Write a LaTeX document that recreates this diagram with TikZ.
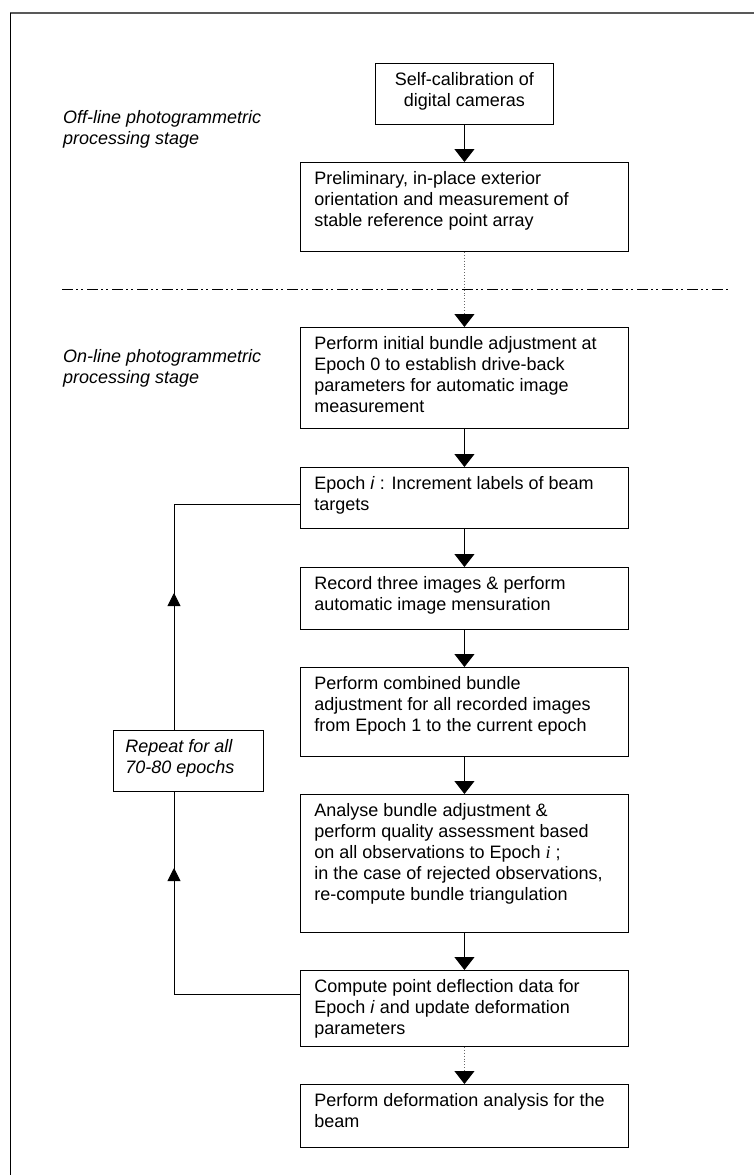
\documentclass[tikz,border=0pt]{standalone}
\usepackage{fontspec}
\setmainfont{Liberation Sans}
\newfontfamily\timesfont{Liberation Serif}
\usetikzlibrary{arrows.meta,decorations.markings}
\newcommand{\boxtext}[3][300pt]{\parbox[t][#2][t]{#1}{\raggedright #3}}

\begin{document}
\begin{tikzpicture}[x=1pt, y=-1pt, font=\fontsize{18}{21}\selectfont,
    stage/.style={draw, line width=0.9pt, anchor=north west, inner xsep=14pt, inner ysep=9pt},
    flow/.style={line width=0.9pt, -{Triangle[width=20pt,length=13pt]}},
    dotflow/.style={dotted, line width=0.9pt, black!60, -{Triangle[width=20pt,length=13pt,color=black]}},
    stagelabel/.style={anchor=north west, inner sep=0pt, align=left, font=\fontsize{18}{21}\selectfont\itshape}]
    \useasboundingbox (0,0) rectangle (754,1175);
    % frame
    \draw[line width=2pt, black!65] (10,13) -- (754,13);
    \draw[line width=0.9pt] (10,13) -- (10,1175);
    % stages
    \node[stagelabel] (offline) at (63,110) {Off-line photogrammetric\\processing stage};
    \node[stagelabel] (online) at (63,349) {On-line photogrammetric\\processing stage};
    \draw[line width=0.9pt, dash pattern=on 11pt off 3pt on 2pt off 3pt on 2pt off 4pt] (62,289) -- (728,289);
    % off-line boxes
    \node[stage] (calib) at (375,63) {\boxtext[150pt]{43pt}{\centering Self-calibration of\\digital cameras}};
    \node[stage] (prelim) at (300,162) {\boxtext{71pt}{Preliminary, in-place exterior\\orientation and measurement of\\stable reference point array}};
    % on-line boxes
    \node[stage] (initial) at (300,327) {\boxtext{83pt}{Perform initial bundle adjustment at\\Epoch 0 to establish drive-back\\parameters for automatic image\\measurement}};
    \node[stage] (epoch) at (300,467) {\boxtext{43pt}{Epoch \textit{i} : Increment labels of beam\\targets}};
    \node[stage] (record) at (300,567) {\boxtext{44pt}{Record three images \& perform\\automatic image mensuration}};
    \node[stage] (combined) at (300,667) {\boxtext{71pt}{Perform combined bundle\\adjustment for all recorded images\\from Epoch 1 to the current epoch}};
    \node[stage] (analyse) at (300,794) {\boxtext{120pt}{Analyse bundle adjustment \&\\perform quality assessment based\\on all observations to Epoch {\timesfont\itshape i} ;\\in the case of rejected observations,\\re-compute bundle triangulation}};
    \node[stage] (compute) at (300,970) {\boxtext{58pt}{Compute point deflection data for\\Epoch \textit{i} and update deformation\\parameters}};
    \node[stage] (deform) at (300,1084) {\boxtext{45pt}{Perform deformation analysis for the\\beam}};
    \node[stage, inner xsep=12pt, font=\fontsize{18}{21}\selectfont\itshape] (repeat) at (113,730) {\boxtext[126pt]{43pt}{Repeat for all\\70-80 epochs}};
    % arrows
    \foreach \a/\b in {calib/prelim, initial/epoch, epoch/record, record/combined, combined/analyse, analyse/compute}
        \draw[flow] (\a) -- (\b);
    \draw[dotflow] (prelim) -- (initial);
    \draw[dotflow] (compute) -- (deform);
    % repeat loop
    \coordinate (lowturn) at (174,994);
    \coordinate (upturn) at (174,504);
    \draw[line width=0.9pt, postaction={decorate}, decoration={markings, mark=at position 252pt with {\arrow{Triangle[width=13pt,length=13pt]}}}]
        (compute.west |- lowturn) -- (lowturn) -- (lowturn |- repeat.south);
    \draw[line width=0.9pt, postaction={decorate}, decoration={markings, mark=at position 137pt with {\arrow{Triangle[width=13pt,length=13pt]}}}]
        (lowturn |- repeat.north) -- (upturn) -- (epoch.west |- upturn);
\end{tikzpicture}
\end{document}
